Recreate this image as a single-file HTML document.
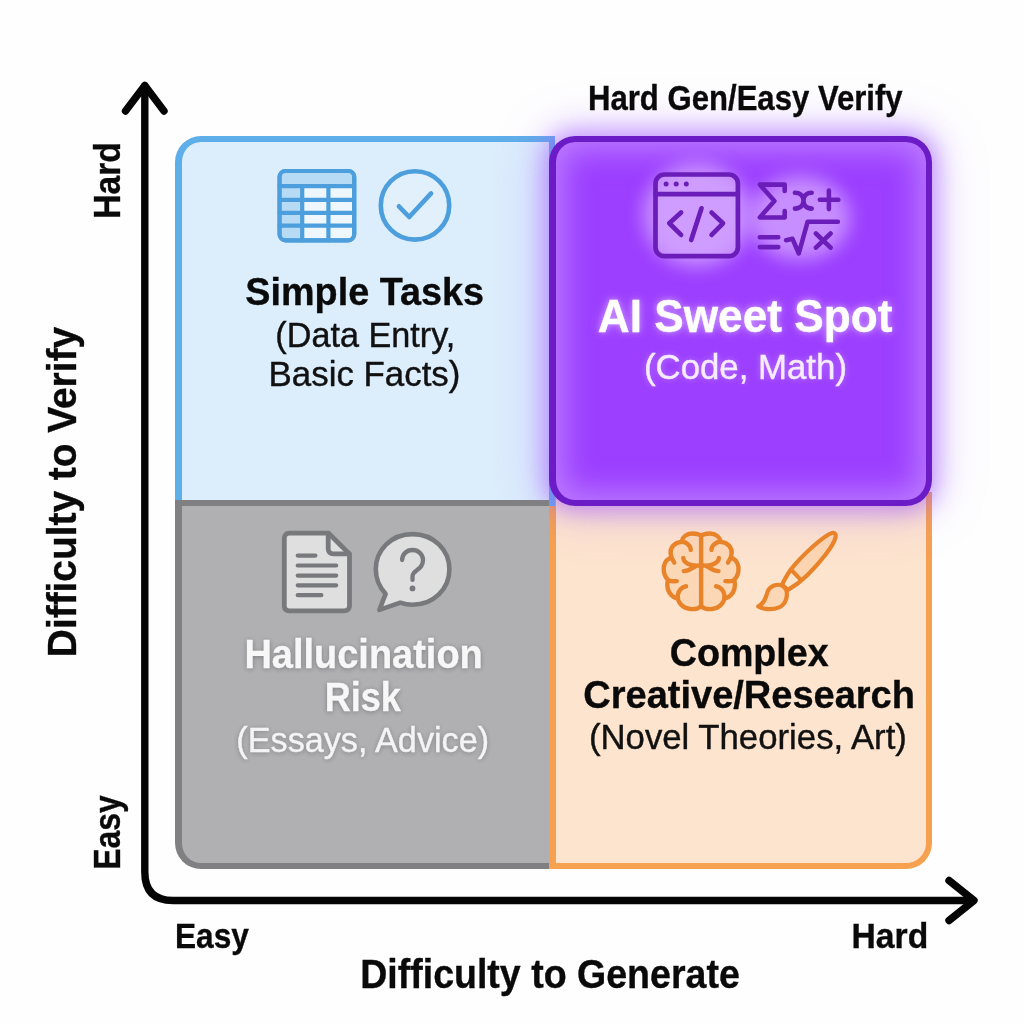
<!DOCTYPE html>
<html><head><meta charset="utf-8"><title>AI Sweet Spot</title>
<style>
html,body{margin:0;padding:0;background:#fefefe;}
body{width:1024px;height:1024px;position:relative;overflow:hidden;font-family:"Liberation Sans",sans-serif;}
#stage{position:absolute;left:0;top:0;width:1024px;height:1024px;}
.box{position:absolute;box-sizing:border-box;}
#q-blue{left:175px;top:136px;width:380px;height:370px;background:#dcedfc;border:6px solid #5eaee9;border-left-width:7px;border-radius:26px 0 0 0;}
#q-grey{left:175px;top:500px;width:374px;height:369px;background:#b0b0b3;border:6px solid #808083;border-left-width:7px;border-right:none;border-radius:0 0 0 26px;}
#q-orange{left:549px;top:492px;width:383px;height:377px;background:#fde4ce;border:6px solid #f5a150;border-left-width:7px;border-top:none;border-radius:0 0 26px 0;}
#q-purple{left:549px;top:136px;width:383px;height:370px;background:#9c3fff;border:6px solid #6c1cc6;border-left-width:7px;border-radius:26px;
  box-shadow:inset 0 0 30px 8px rgba(208,165,255,.6);}
#q-glow{left:549px;top:136px;width:383px;height:370px;border-radius:26px;
  box-shadow:0 0 22px 5px rgba(158,84,255,.55),0 0 46px 10px rgba(170,110,255,.25);}
#txt{position:absolute;left:0;top:0;width:1024px;height:1024px;opacity:.999;will-change:opacity;}
.t{position:absolute;left:0;top:0;white-space:nowrap;line-height:1;transform-origin:0 0;color:#0a0a0a;-webkit-text-stroke:.4px currentColor;}
.b{font-weight:bold;-webkit-text-stroke:.35px currentColor;}
</style></head><body>
<div id="stage">
<div class="box" id="q-orange"></div>
<div class="box" id="q-blue"></div>
<div class="box" id="q-glow"></div>
<div class="box" id="q-grey"></div>
<div class="box" id="q-purple"></div>
<svg id="axes" width="1024" height="1024" viewBox="0 0 1024 1024" style="position:absolute;left:0;top:0" fill="none" stroke="#050505" stroke-width="7.4" stroke-linecap="round" stroke-linejoin="round">
<path d="M144.8 86 V872 Q144.8 900.5 173 900.5 H973"/>
<path d="M125.5 111 L144.8 85.5 L164 111"/>
<path d="M949 880.5 L974 900.5 L949 920.5"/>
</svg>
<div id="txt">
<div class="t b" id="t-title" style="font-size:34.24px;color:#0a0a0a;transform:translate(587.98px,80.80px) scaleX(0.9086);">Hard Gen/Easy Verify</div>
<div class="t b" id="t-s1" style="font-size:39.28px;color:#0a0a0a;transform:translate(245.36px,272.30px) scaleX(0.9615);">Simple Tasks</div>
<div class="t" id="t-s2" style="font-size:34.35px;color:#111;transform:translate(275.35px,317.50px) scaleX(0.9965);">(Data Entry,</div>
<div class="t" id="t-s3" style="font-size:34.35px;color:#111;transform:translate(268.51px,357.30px) scaleX(1.0163);">Basic Facts)</div>
<div class="t b" id="t-a1" style="font-size:45.47px;color:#fff;transform:translate(597.82px,293.60px) scaleX(0.9716);text-shadow:0 0 7px rgba(255,255,255,.45),0 0 14px rgba(235,200,255,.4);">AI Sweet Spot</div>
<div class="t" id="t-a2" style="font-size:35.51px;color:#f6ecff;transform:translate(643.91px,350.30px) scaleX(0.9802);text-shadow:0 0 7px rgba(255,255,255,.38);">(Code, Math)</div>
<div class="t b" id="t-h1" style="font-size:40.72px;color:#f7f7f7;transform:translate(244.43px,633.60px) scaleX(0.9324);text-shadow:0 1px 6px rgba(60,60,60,.45);">Hallucination</div>
<div class="t b" id="t-h2" style="font-size:39.86px;color:#f7f7f7;transform:translate(324.65px,677.60px) scaleX(0.9052);text-shadow:0 1px 6px rgba(60,60,60,.45);">Risk</div>
<div class="t" id="t-h3" style="font-size:34.93px;color:#f4f4f4;transform:translate(236.35px,722.70px) scaleX(0.9791);text-shadow:0 1px 5px rgba(60,60,60,.4);">(Essays, Advice)</div>
<div class="t b" id="t-c1" style="font-size:37.99px;color:#0a0a0a;transform:translate(669.80px,633.70px) scaleX(0.9901);">Complex</div>
<div class="t b" id="t-c2" style="font-size:39.42px;color:#0a0a0a;transform:translate(583.28px,674.90px) scaleX(0.9644);">Creative/Research</div>
<div class="t" id="t-c3" style="font-size:35.65px;color:#111;transform:translate(588.91px,720.40px) scaleX(0.9748);">(Novel Theories, Art)</div>
<div class="t b" id="t-xl" style="font-size:41.29px;color:#0a0a0a;transform:translate(360.16px,954.40px) scaleX(0.9093);">Difficulty to Generate</div>
<div class="t b" id="t-xe" style="font-size:35.11px;color:#0a0a0a;transform:translate(174.94px,918.40px) scaleX(0.9012);">Easy</div>
<div class="t b" id="t-xh" style="font-size:35.83px;color:#0a0a0a;transform:translate(851.51px,919.40px) scaleX(0.9397);">Hard</div>
<div class="t b" id="t-yl" style="font-size:40.43px;color:#0a0a0a;transform:translate(42.40px,657.13px) rotate(-90deg) scaleX(0.9608);">Difficulty to Verify</div>
<div class="t b" id="t-yh" style="font-size:36.69px;color:#0a0a0a;transform:translate(90.10px,218.79px) rotate(-90deg) scaleX(0.9163);">Hard</div>
<div class="t b" id="t-ye" style="font-size:36.55px;color:#0a0a0a;transform:translate(89.80px,869.67px) rotate(-90deg) scaleX(0.8730);">Easy</div>
</div>
<svg id="icons" width="1024" height="1024" viewBox="0 0 1024 1024" style="position:absolute;left:0;top:0" fill="none" stroke-linecap="round" stroke-linejoin="round">
<defs>
<filter id="blur8" x="-50%" y="-50%" width="200%" height="200%"><feGaussianBlur stdDeviation="9"/></filter>
<filter id="blur3" x="-50%" y="-50%" width="200%" height="200%"><feGaussianBlur stdDeviation="3"/></filter>
</defs>
<!-- table icon -->
<g stroke="#4c9fdc" stroke-width="4.2">
<rect x="279.6" y="171" width="74.6" height="69.3" rx="6" fill="#eef7fe"/>
<path d="M281.7 186.1 V177 Q281.7 173.1 285.6 173.1 H348.2 Q352.1 173.1 352.1 177 V186.1 Z" fill="#b7dbf5" stroke="none"/>
<rect x="281.7" y="186.1" width="20.5" height="52.1" fill="#b7dbf5" stroke="none"/>
<path d="M279.6 186.1 H354.2 M279.6 199.8 H354.2 M279.6 212.9 H354.2 M279.6 225.6 H354.2 M302.2 186.1 V240.3 M328.4 186.1 V240.3"/>
<rect x="279.6" y="171" width="74.6" height="69.3" rx="6"/>
</g>
<!-- check circle -->
<g stroke="#4c9fdc" stroke-width="4.6">
<circle cx="415" cy="205.4" r="34.2" fill="rgba(255,255,255,.18)"/>
<path d="M398.9 206.3 L409.2 217 L431.1 193.4"/>
</g>
<!-- purple glow behind icons -->
<ellipse cx="697" cy="215" rx="54" ry="52" fill="rgba(228,195,255,.6)" filter="url(#blur8)"/>
<ellipse cx="800" cy="218" rx="50" ry="42" fill="rgba(228,195,255,.6)" filter="url(#blur8)"/>
<!-- code window -->
<g stroke="#6a1db8" stroke-width="4.7">
<rect x="655.5" y="174.5" width="82.4" height="81.7" rx="9" fill="rgba(214,170,255,.55)"/>
<path d="M655.5 194.1 H737.9"/>
<path d="M681.1 212.6 L669.3 223.3 L681.1 234.9 M701.5 208.3 L691.2 239.9 M711.6 212.6 L723 223.3 L711.6 234.9"/>
</g>
<g fill="#6a1db8"><circle cx="666.1" cy="184" r="2.5"/><circle cx="676.2" cy="184" r="2.5"/><circle cx="686.3" cy="184" r="2.5"/></g>
<!-- math -->
<path d="M 784.7 191.0 V 184.6 H 759.8 L 774.4 201.1 L 759.8 217.4 H 784.7 V 211.0 M 794.9 192.7 C 800.8 192.7 803.5 196.4 803.5 200.6 C 803.5 204.8 800.8 208.6 794.9 208.6 M 811.7 192.7 C 806.2 192.7 803.5 196.4 803.5 200.6 C 803.5 204.8 806.2 208.6 811.7 208.6 M 819.8 199.8 H 838.4 M 828.9 190.5 V 209.1 M 759.8 237.2 H 778.3 M 759.8 247.1 H 778.3 M 786.1 240.3 L 792.5 238.8 L 798.8 253.5 L 807.6 221.8 H 837.9 M 815.9 233.5 L 830.6 247.6 M 830.6 233.5 L 815.9 247.6" stroke="#6a1db8" stroke-width="4.55"/>
<!-- document -->
<g stroke="#78797c" stroke-width="4.8">
<path d="M 289.4 533.2 H 328.6 L 349.5 554.0 V 605.7 C 349.5 609.0 347.4 610.8 344.1 610.8 H 289.4 C 286.1 610.8 284.3 609.0 284.3 605.7 V 538.3 C 284.3 535.2 286.1 533.2 289.4 533.2 Z" fill="#dfdfdf"/>
<path d="M 328.2 533.5 V 548.7 C 328.2 551.9 330.2 553.8 333.4 553.8 H 349.2"/>
<path d="M297.7 555.6 H315.4 M297.7 565.5 H336.2 M297.7 575.6 H336.2 M297.7 585.3 H336.2 M297.7 595.2 H321.4" stroke-width="4.2"/>
</g>
<!-- bubble -->
<g stroke="#78797c" stroke-width="4.6">
<path d="M 412.5 534.1 C 433.6 534.1 449.4 550.0 449.4 569.3 C 449.4 589.0 433.6 604.8 412.5 604.8 C 408.1 604.8 404.0 604.0 400.3 602.7 L 379.4 609.9 L 385.6 593.8 C 379.4 587.2 375.8 578.8 375.8 569.3 C 375.8 550.0 391.4 534.1 412.5 534.1 Z" fill="#dfdfdf"/>
<path d="M 402.1 560.1 C 402.1 554.2 406.7 550.0 412.5 550.0 C 418.3 550.0 423.0 554.2 423.0 560.1 C 423.0 565.8 419.7 568.1 416.5 570.5 C 413.7 572.5 412.5 574.2 412.5 576.9 V 579.9" stroke-width="4.3"/>
</g>
<circle cx="412.5" cy="588.4" r="2.9" fill="#78797c"/>
<!-- brain -->
<path d="M 701.1 536.1 C 699.5 533.8 695.8 533.5 692.1 533.5 C 686.5 533.5 682.4 537.1 681.3 541.9 C 674.5 542.4 669.8 547.7 670.6 553.8 C 670.7 555.1 670.4 556.5 670.3 557.7 C 665.2 560.3 662.9 565.8 663.8 571.4 C 664.5 575.6 666.6 578.8 667.7 580.7 C 666.6 586.2 668.0 591.8 671.7 595.5 C 673.1 596.9 674.9 597.8 677.1 598.5 C 678.2 603.8 682.8 608.5 690.3 609.0 C 694.9 609.4 699.1 608.0 701.1 605.9 Z M 701.1 536.1 C 702.7 533.8 706.4 533.5 710.1 533.5 C 715.7 533.5 719.8 537.1 721.0 541.9 C 727.7 542.4 732.4 547.7 731.6 553.8 C 731.5 555.1 731.8 556.5 731.9 557.7 C 737.0 560.3 739.3 565.8 738.4 571.4 C 737.7 575.6 735.6 578.8 734.5 580.7 C 735.6 586.2 734.2 591.8 730.5 595.5 C 729.1 596.9 727.3 597.8 725.1 598.5 C 724.0 603.8 719.4 608.5 712.0 609.0 C 707.3 609.4 703.1 608.0 701.1 605.9 Z" fill="rgba(250,198,150,.42)"/>
<path d="M 701.1 536.1 C 699.5 533.8 695.8 533.5 692.1 533.5 C 686.5 533.5 682.4 537.1 681.3 541.9 M 681.3 541.9 C 674.5 542.4 669.8 547.7 670.6 553.8 C 670.9 557.0 672.6 560.3 674.2 562.6 M 670.3 557.7 C 665.2 560.3 662.9 565.8 663.8 571.4 C 664.5 575.6 666.6 578.8 668.9 580.5 C 671.2 581.4 674.0 581.3 676.8 581.1 M 667.7 580.7 C 666.6 586.2 668.0 591.8 671.7 595.5 C 673.1 596.9 674.9 597.8 676.8 598.5 M 686.1 586.2 C 681.9 586.7 678.2 590.9 677.7 595.5 C 677.3 602.0 681.9 608.0 690.3 609.0 C 694.9 609.4 699.1 608.0 701.1 605.9 M 681.3 541.9 C 684.7 541.2 690.7 544.9 690.7 549.9 M 701.1 565.2 C 694.9 566.3 683.8 564.9 683.3 557.9 M 695.8 566.3 C 692.1 567.7 689.3 571.1 683.8 571.1 M 701.1 536.1 C 702.7 533.8 706.4 533.5 710.1 533.5 C 715.7 533.5 719.8 537.1 721.0 541.9 M 721.0 541.9 C 727.7 542.4 732.4 547.7 731.6 553.8 C 731.3 557.0 729.6 560.3 728.0 562.6 M 731.9 557.7 C 737.0 560.3 739.3 565.8 738.4 571.4 C 737.7 575.6 735.6 578.8 733.3 580.5 C 731.0 581.4 728.2 581.3 725.4 581.1 M 734.5 580.7 C 735.6 586.2 734.2 591.8 730.5 595.5 C 729.1 596.9 727.3 597.8 725.4 598.5 M 716.1 586.2 C 720.3 586.7 724.0 590.9 724.5 595.5 C 724.9 602.0 720.3 608.0 712.0 609.0 C 707.3 609.4 703.1 608.0 701.1 605.9 M 721.0 541.9 C 717.5 541.2 711.5 544.9 711.5 549.9 M 701.1 565.2 C 707.3 566.3 718.5 564.9 718.9 557.9 M 706.4 566.3 C 710.1 567.7 712.9 571.1 718.5 571.1 M 701.1 536.1 V 606.2" stroke="#e8832a" stroke-width="4.4"/>
<!-- brush -->
<g stroke="#e8832a" stroke-width="4.2">
<path d="M 832.1 533.0 C 824.2 535.0 801.9 555.6 790.8 569.5 L 800.8 579.3 C 803.8 576.9 805.7 576.5 807.5 575.1 C 820.5 562.1 833.5 545.9 835.5 537.5 C 836.3 534.1 834.9 532.4 832.1 533.0 Z" fill="rgba(250,198,150,.5)" stroke="none"/>
<path d="M 832.1 533.0 C 824.2 535.0 801.9 555.6 790.8 569.5 C 787.1 575.1 784.3 579.7 782.0 584.8 L 788.0 589.9 C 793.6 586.7 801.9 580.7 807.5 575.1 C 820.5 562.1 833.5 545.9 835.5 537.5 C 836.3 534.1 834.9 532.4 832.1 533.0 Z"/>
<path d="M 792.2 570.9 L 799.6 578.6"/>
<path d="M 782.5 585.8 C 777.8 583.4 769.9 585.3 767.6 591.8 C 765.8 598.3 763.9 603.8 758.2 606.4 C 763.9 609.9 773.2 609.9 779.7 607.1 C 786.2 603.8 788.0 595.5 786.2 589.9 C 785.3 588.1 783.9 586.7 782.5 585.8 Z" fill="rgba(250,200,155,.48)"/>
</g>
</svg>
</div>
</body></html>
